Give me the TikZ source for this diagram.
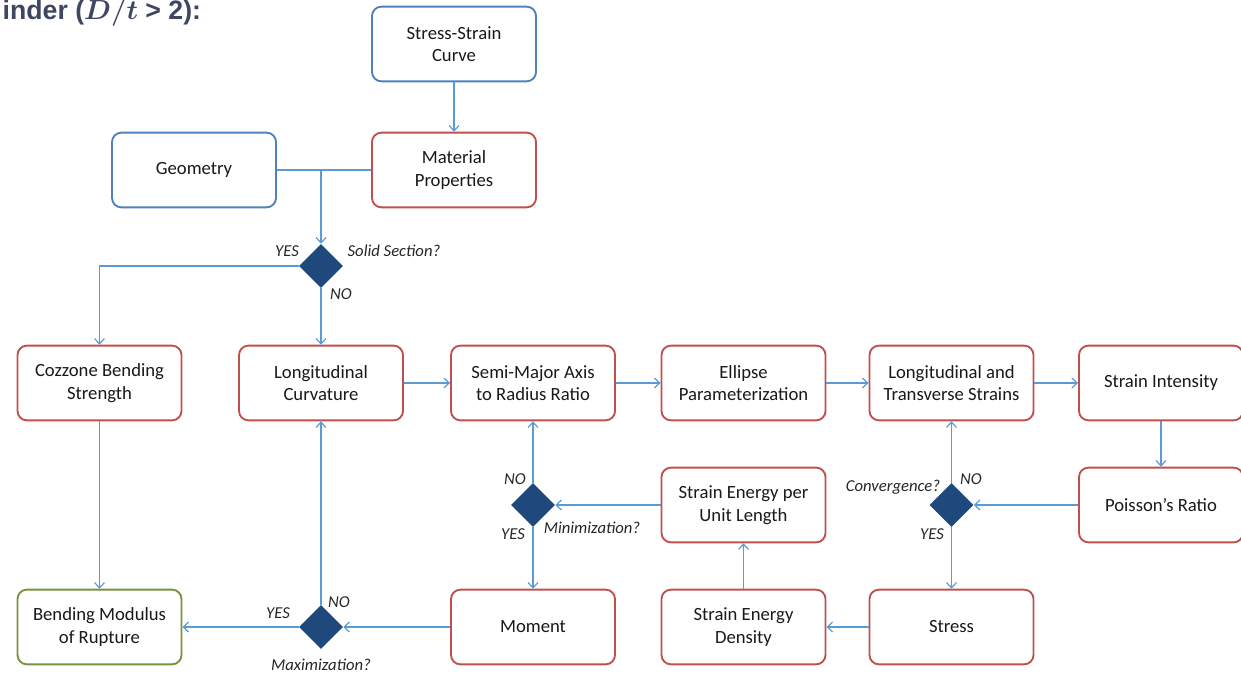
\documentclass[tikz,border=0pt]{standalone}
\usepackage{fontspec}
\usepackage{bm}
\setmainfont{Carlito}
\newfontfamily\headfont{Liberation Sans}
\usepackage{tikz}
\usetikzlibrary{arrows.meta,shapes.geometric}
\definecolor{inblue}{HTML}{4F81BD}
\definecolor{boxred}{HTML}{C0504D}
\definecolor{outgreen}{HTML}{77933C}
\definecolor{decblue}{HTML}{1F497D}
\definecolor{flowblue}{HTML}{5B9BD5}
\definecolor{headgray}{HTML}{3F4661}
\tikzset{
  box/.style={draw=boxred, line width=1.4pt, rounded corners=7pt, fill=white, minimum width=123pt, minimum height=56pt, align=center, text=black!90, font=\fontsize{14}{17}\selectfont},
  inbox/.style={box, draw=inblue},
  outbox/.style={box, draw=outgreen},
  dec/.style={diamond, fill=decblue, minimum width=33pt, minimum height=33pt, inner sep=0pt},
  link/.style={draw=flowblue, line width=0.9pt},
  flow/.style={link, -{Straight Barb[length=4pt,width=7.5pt]}},
  lab/.style={text=black!85, font=\fontsize{12.5}{14}\selectfont\itshape},
  head/.style={text=headgray, font=\headfont\bfseries\fontsize{20}{24}\selectfont},
}

\begin{document}
\begin{tikzpicture}[x=0.75pt,y=-0.75pt]
  \useasboundingbox (0,0) rectangle (1241,673);
  \node[head, anchor=base west] (title) at (-2,20) {inder ($\bm{D/t}$ > 2):};
  % inputs
  \node[inbox] (ssc) at (454,44) {Stress-Strain\\Curve};
  \node[inbox] (geo) at (194,170) {Geometry};
  \node[box] (mat) at (454,170) {Material\\Properties};
  \node[dec] (solid) at (321,266) {};
  % second row
  \node[box] (coz) at (99.5,383) {Cozzone Bending\\Strength};
  \node[box] (lcurv) at (321,383) {Longitudinal\\Curvature};
  \node[box] (semi) at (533,383) {Semi-Major Axis\\to Radius Ratio};
  \node[box] (ell) at (743.5,383) {Ellipse\\Parameterization};
  \node[box] (lts) at (951.5,383) {Longitudinal and\\Transverse Strains};
  \node[box] (sint) at (1161,383) {Strain Intensity};
  % third row
  \node[dec] (minim) at (533,505) {};
  \node[box] (seul) at (743.5,505) {Strain Energy per\\Unit Length};
  \node[dec] (conv) at (951.5,505) {};
  \node[box] (pois) at (1161,505) {Poisson’s Ratio};
  % bottom row
  \node[outbox] (bmr) at (99.5,627) {Bending Modulus\\of Rupture};
  \node[dec] (maxim) at (321,627) {};
  \node[box] (mom) at (533,627) {Moment};
  \node[box] (sed) at (743.5,627) {Strain Energy\\Density};
  \node[box] (stress) at (951.5,627) {Stress};
  % decision labels
  \node[lab] (y1) at (287,251) {YES};
  \node[lab] (q1) at (394,251) {Solid Section?};
  \node[lab] (n1) at (341,294) {NO};
  \node[lab] (n2) at (515,479) {NO};
  \node[lab] (y2) at (513,534) {YES};
  \node[lab] (q2) at (592,528) {Minimization?};
  \node[lab] (q3) at (893,487) {Convergence?};
  \node[lab] (n3) at (971,479) {NO};
  \node[lab] (y3) at (932,534) {YES};
  \node[lab] (y4) at (278,613) {YES};
  \node[lab] (n4) at (339,602) {NO};
  \node[lab] (q4) at (321,665) {Maximization?};
  % connectors
  \draw[flow] (ssc) -- (mat);
  \draw[link] (geo) -- (mat);
  \draw[flow] (geo -| solid) -- (solid);
  \draw[flow] (solid) -| (coz);
  \draw[flow] (solid) -- (lcurv);
  \draw[flow] (lcurv) -- (semi);
  \draw[flow] (semi) -- (ell);
  \draw[flow] (ell) -- (lts);
  \draw[flow] (lts) -- (sint);
  \draw[flow] (sint) -- (pois);
  \draw[flow] (pois) -- (conv);
  \draw[flow] (conv) -- (lts);
  \draw[flow] (conv) -- (stress);
  \draw[flow] (stress) -- (sed);
  \draw[flow] (sed) -- (seul);
  \draw[flow] (seul) -- (minim);
  \draw[flow] (minim) -- (semi);
  \draw[flow] (minim) -- (mom);
  \draw[flow] (mom) -- (maxim);
  \draw[flow] (maxim) -- (bmr);
  \draw[flow] (maxim) -- (lcurv);
  \draw[flow] (coz) -- (bmr);
\end{tikzpicture}
\end{document}
